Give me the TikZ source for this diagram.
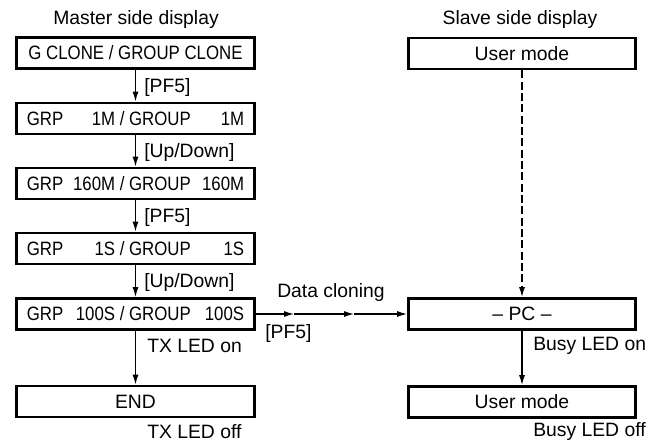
\documentclass[tikz,border=0pt]{standalone}
\usepackage{fontspec}
\setmainfont{Liberation Sans}
\newfontfamily\narrowfont[FakeStretch=0.87]{Liberation Sans}
\usetikzlibrary{arrows.meta}

\newcommand{\grpline}[1]{\narrowfont\makebox[30pt][l]{GRP}\makebox[93pt][r]{#1 / GROUP}\makebox[40pt][r]{#1}}

\tikzset{
  disp/.style={draw, line width=1.8pt, minimum width=178.5pt, minimum height=23.5pt, inner sep=0pt},
  sdisp/.style={disp, minimum width=170.5pt},
  flow/.style={line width=0.95pt, -{Latex[length=7.5pt,width=4.5pt]}},
  key/.style={anchor=west, inner sep=0pt},
}

\begin{document}
\begin{tikzpicture}[x=0.75pt, y=-0.75pt, font=\fontsize{14.5}{17}\selectfont]
\useasboundingbox (0,0) rectangle (662,442);
% master side
\node (mhead) at (136,20) {Master side display};
\node [disp] (g1) at (135.5,53) {\narrowfont G CLONE / GROUP CLONE};
\node [disp] (g2) at (135.5,118.5) {\grpline{1M}};
\node [disp] (g3) at (135.5,183.5) {\grpline{160M}};
\node [disp] (g4) at (135.5,248.5) {\grpline{1S}};
\node [disp] (g5) at (135.5,314) {\grpline{100S}};
\node [disp] (gend) at (135.5,401.5) {END};
\draw [flow] (g1) -- (g2);
\draw [flow] (g2) -- (g3);
\draw [flow] (g3) -- (g4);
\draw [flow] (g4) -- (g5);
\draw [flow] (g5) -- (gend);
\node [key] (k1) at (144,88) {[PF5]};
\node [key] (k2) at (144,153) {[Up/Down]};
\node [key] (k3) at (144,218) {[PF5]};
\node [key] (k4) at (144,283) {[Up/Down]};
\node [key] (txon) at (147,346) {TX LED on};
\node [key] (txoff) at (147,432) {TX LED off};
% slave side
\node (shead) at (520,20) {Slave side display};
\node [sdisp] (s1) at (522,53.5) {User mode};
\node [sdisp] (pc) at (522,314) {-- PC --};
\node [sdisp] (s2) at (522,402) {User mode};
\draw [flow, dash pattern=on 6pt off 2.5pt] (s1) -- (pc);
\draw [flow] (pc) -- (s2);
\node [key] (busyon) at (533,346) {Busy LED on};
\node [key] (busyoff) at (533,432) {Busy LED off};
% data cloning
\coordinate (m1) at (294,314);
\coordinate (m2) at (354,314);
\draw [flow] (g5) -- (m1);
\draw [flow] (m1) -- (m2);
\draw [flow] (m2) -- (pc);
\node (clone) at (331,293) {Data cloning};
\node [key] (k5) at (265,334) {[PF5]};
\end{tikzpicture}
\end{document}
